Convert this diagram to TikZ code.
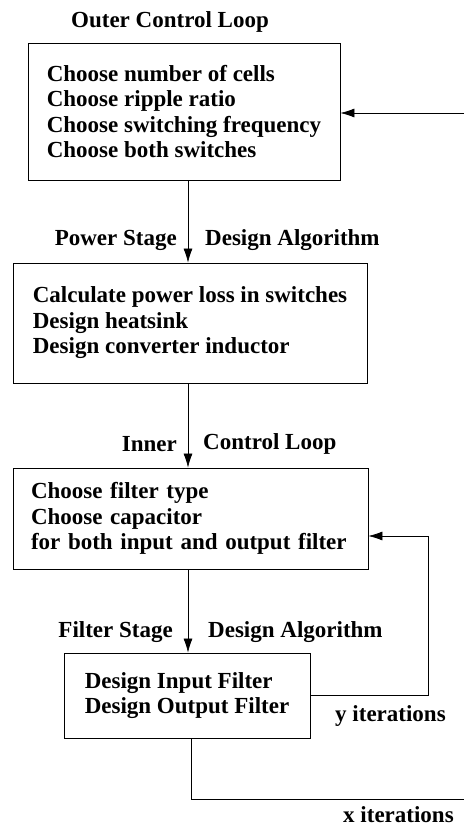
\documentclass[tikz,border=0pt]{standalone}
\usepackage{fontspec}
\setmainfont{Liberation Serif}
\usetikzlibrary{arrows.meta,positioning}
\tikzset{
  % arrow
  flowra/.style   ={-{Latex[length=14pt,width=9pt]}, line width=0.7pt},
  flowline/.style ={line width=0.7pt},
  % node
  flowbox/.style  ={draw=black, line width=0.8pt, align=left, inner xsep=4pt,
                    font=\bfseries\fontsize{23}{25.5}\selectfont},
  flowlabel/.style={inner sep=0pt, font=\bfseries\fontsize{23}{25}\selectfont}
}
\begin{document}
\begin{tikzpicture}[x=1pt,y=-1pt]
  \useasboundingbox (0,0) rectangle (464,826);
  % boxes
  \node[flowbox, minimum width=312pt, minimum height=137pt] (outer) at (184,111.5)
    {Choose number of cells\\Choose ripple ratio\\Choose switching frequency\\Choose both switches};
  \node[flowbox, minimum width=354pt, minimum height=120pt] (power) at (190,323)
    {Calculate power loss in switches\\Design heatsink\\Design converter inductor};
  \node[flowbox, minimum width=355pt, minimum height=101pt, inner xsep=18pt, text width=319pt] (inner) at (190.5,518.5)
    {Choose filter type\\Choose capacitor\\for both input and output filter};
  \node[flowbox, minimum width=246pt, minimum height=85pt] (filter) at (187,695.5)
    {Design Input Filter\\Design Output Filter};
  % labels
  \node[flowlabel] (toplbl) at (170,22) {Outer Control Loop};
  \node[flowlabel, anchor=east] (pslbl) at (177,240) {Power Stage};
  \node[flowlabel, anchor=west] (palbl) at (205,240) {Design Algorithm};
  \node[flowlabel, anchor=east] (inlbl) at (177,444) {Inner};
  \node[flowlabel, anchor=west] (cllbl) at (203,444) {Control Loop};
  \node[flowlabel, anchor=east] (fslbl) at (173,632) {Filter Stage};
  \node[flowlabel, anchor=west] (falbl) at (208,632) {Design Algorithm};
  \node[flowlabel, anchor=west] (ylbl) at (335,716) {y iterations};
  \node[flowlabel, anchor=base west] (xlbl) at (343,822) {x iterations};
  % connectors
  \coordinate (spine) at (188,0);
  \coordinate (xout) at (464,799);
  \coordinate (xin) at (464,113);
  \coordinate (yturn) at (428,536);
  \draw[flowra] (outer.south -| spine) -- (power.north -| spine);
  \draw[flowra] (power.south -| spine) -- (inner.north -| spine);
  \draw[flowra] (inner.south -| spine) -- (filter.north -| spine);
  \draw[flowra] (filter.east) -| (yturn) -- (yturn -| inner.east);
  \draw[flowline] ([xshift=3pt]filter.south -| spine) |- (xout);
  \draw[flowra] (xin) -- (xin -| outer.east);
\end{tikzpicture}
\end{document}
